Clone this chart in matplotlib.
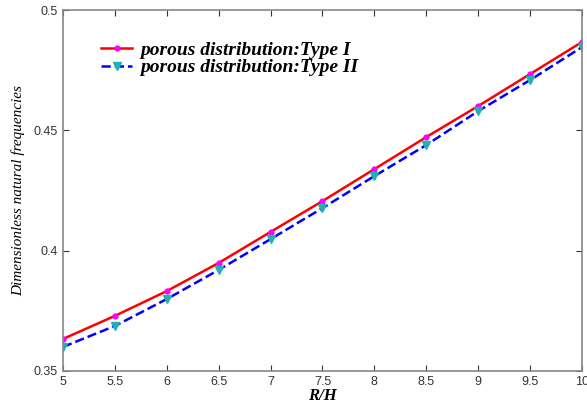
import matplotlib.pyplot as plt

# data
r_h = [5, 5.5, 6, 6.5, 7, 7.5, 8, 8.5, 9, 9.5, 10]
type1 = [0.3633, 0.3729, 0.3832, 0.3949, 0.4078, 0.4206, 0.4339, 0.4472, 0.4601, 0.4734, 0.4867]
type2 = [0.3600, 0.3687, 0.3799, 0.3920, 0.4048, 0.4177, 0.4310, 0.4439, 0.4580, 0.4709, 0.4846]
xticks = [5, 5.5, 6, 6.5, 7, 7.5, 8, 8.5, 9, 9.5, 10]
yticks = [0.35, 0.4, 0.45, 0.5]

fig = plt.figure(figsize=(5.87, 4.07), dpi=100)
ax = fig.add_axes([0.1073, 0.0885, 0.8842, 0.8869])

ax.plot(r_h, type1, '-', color='red', lw=1.8, marker='o', ms=3.5,
        mfc='magenta', mec='magenta', label='porous distribution:Type I')
ax.plot(r_h, type2, '--', color='blue', lw=1.8, marker='v', ms=6,
        mfc='#20b2b2', mec='#20b2b2', label='porous distribution:Type II')

ax.set_xlim(5, 10)
ax.set_ylim(0.35, 0.5)
ax.set_xticks(xticks)
ax.set_xticklabels(['5', '5.5', '6', '6.5', '7', '7.5', '8', '8.5', '9', '9.5', '10'])
ax.set_yticks(yticks)
ax.set_yticklabels(['0.35', '0.4', '0.45', '0.5'])
ax.tick_params(direction='in', top=True, right=True, labelsize=9, colors='#333333',
               labelcolor='#333333', length=4)
for lbl in ax.get_xticklabels() + ax.get_yticklabels():
    lbl.set_fontfamily('Liberation Sans')
for s in ax.spines.values():
    s.set_color('#888888')
    s.set_linewidth(1.2)

font = {'family': 'Liberation Serif', 'style': 'italic', 'weight': 'bold'}
ax.set_xlabel('R/H', fontdict=font, fontsize=12, labelpad=0)
ax.set_ylabel('Dimensionless natural frequencies', family='Liberation Serif',
              style='italic', fontsize=11, labelpad=6)

leg = ax.legend(loc='upper left', bbox_to_anchor=(0.04, 0.962), frameon=False,
                prop={'family': 'Liberation Serif', 'style': 'italic', 'weight': 'bold', 'size': 14},
                handlelength=1.6, labelspacing=0.0, handletextpad=0.4)

fig.savefig('out.png', dpi=100)
